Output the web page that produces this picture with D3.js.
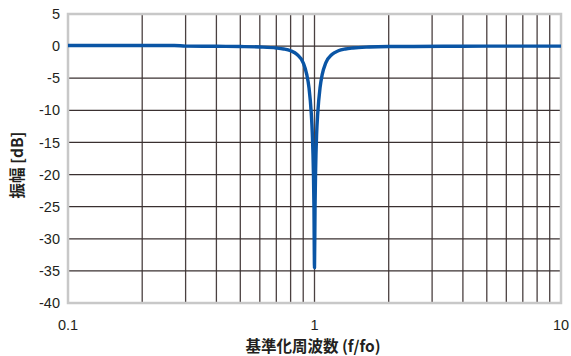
<!DOCTYPE html>
<html><head><meta charset="utf-8">
<script src="https://cdn.jsdelivr.net/npm/d3@7"></script>
<style>body{margin:0;background:#fff}svg{display:block}</style>
</head><body>
<script>
// Data
const freq = [0.1,0.2,0.27,0.3,0.4,0.5,0.6,0.7,0.75,0.8,0.85,0.9,0.93,0.95,0.97,0.98,0.99,0.995,1.0,1.005,1.01,1.02,1.031,1.053,1.075,1.111,1.176,1.25,1.333,1.43,1.67,2,2.5,3.33,5,7,10];
const ampDb = [0.1,0.1,0.1,0,-0.03,-0.07,-0.14,-0.29,-0.45,-0.73,-1.3,-2.6,-4.4,-6.5,-10.4,-13.7,-19.7,-25.1,-34.5,-25.1,-19.7,-13.7,-10.4,-6.5,-4.4,-2.6,-1.3,-0.73,-0.45,-0.29,-0.14,-0.07,-0.05,-0.03,0,0,0];
const yTicks = [5,0,-5,-10,-15,-20,-25,-30,-35,-40];
const xTicks = [0.1,1,10];
const xGrid = [0.2,0.3,0.4,0.5,0.6,0.7,0.8,0.9,1,2,3,4,5,6,7,8,9];
const xLabel = "基準化周波数 (f/fo)";
const yLabel = "振幅 [dB]";

const W = 571, H = 356;
const m = {left:68, right:10, top:14, bottom:53};
const svg = d3.select("body").append("svg").attr("width",W).attr("height",H);
const x = d3.scaleLog().domain([0.1,10]).range([m.left, W-m.right]);
const y = d3.scaleLinear().domain([-40,5]).range([H-m.bottom, m.top]);
const font = "'Liberation Sans', Arial, sans-serif";
const cjk = "'Noto Sans CJK JP', sans-serif";

// grid
svg.append("g").selectAll("line").data(xGrid).join("line")
  .attr("x1",d=>x(d)).attr("x2",d=>x(d)).attr("y1",y(5)).attr("y2",y(-40))
  .attr("stroke","#4a4040").attr("stroke-width",1.3);
svg.append("g").selectAll("line").data(yTicks).join("line")
  .attr("x1",x(0.1)).attr("x2",x(10)).attr("y1",d=>y(d)).attr("y2",d=>y(d))
  .attr("stroke","#3a3030").attr("stroke-width",1.2);

// border
svg.append("rect").attr("x",x(0.1)).attr("y",y(5)).attr("width",x(10)-x(0.1)).attr("height",y(-40)-y(5))
  .attr("fill","none").attr("stroke","#c8c8c8").attr("stroke-width",2.5);

// curve
svg.append("path").datum(freq.map((f,i)=>[f,ampDb[i]]))
  .attr("d", d3.line().x(d=>x(d[0])).y(d=>y(d[1])).curve(d3.curveMonotoneX))
  .attr("fill","none").attr("stroke","#0a55a5").attr("stroke-width",3.4).attr("stroke-linejoin","round");

// y tick labels
svg.append("g").selectAll("text").data(yTicks).join("text")
  .attr("x",m.left-8).attr("y",d=>y(d)).attr("dy","0.35em").attr("text-anchor","end")
  .attr("font-family",font).attr("font-size",14.5).attr("fill","#231f20").text(d=>d);
// x tick labels
svg.append("g").selectAll("text").data(xTicks).join("text")
  .attr("x",d=>x(d)).attr("y",y(-40)+27).attr("text-anchor","middle")
  .attr("font-family",font).attr("font-size",14.5).attr("fill","#231f20").text(d=>d);

svg.append("text").attr("x",313).attr("y",H-4).attr("text-anchor","middle")
  .attr("font-family",cjk).attr("font-weight",700).attr("font-size",15.5).attr("fill","#231f20").text(xLabel);
svg.append("text").attr("transform",`translate(23,165) rotate(-90)`).attr("text-anchor","middle")
  .attr("font-family",cjk).attr("font-weight",700).attr("font-size",15.5).attr("fill","#231f20").text(yLabel);
</script>
</body></html>
